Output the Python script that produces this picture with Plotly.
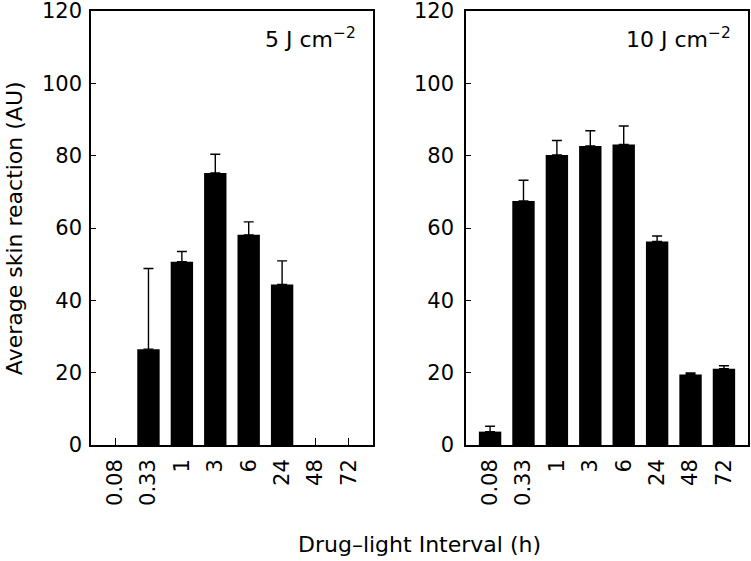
import plotly.graph_objects as go

categories = ["0.08", "0.33", "1", "3", "6", "24", "48", "72"]

# 5 J cm-2 panel (None = no bar)
values_5 = [None, 26.5, 50.7, 75.2, 58.1, 44.4, None, None]
err_5 = [None, 22.3, 2.8, 5.2, 3.6, 6.5, None, None]

# 10 J cm-2 panel
values_10 = [3.7, 67.5, 80.2, 82.7, 83.1, 56.3, 19.5, 21.1]
err_10 = [1.5, 5.7, 4.0, 4.2, 5.1, 1.5, 0.4, 0.8]

panel_labels = ["5 J cm<sup>\u22122</sup>", "10 J cm<sup>\u22122</sup>"]
y_ticks = [0, 20, 40, 60, 80, 100, 120]

FONT = "DejaVu Sans, Liberation Sans, Arial, sans-serif"
FS = 21

fig = go.Figure()

for i, (vals, errs) in enumerate([(values_5, err_5), (values_10, err_10)]):
    xa = "x" if i == 0 else "x2"
    ya = "y" if i == 0 else "y2"
    fig.add_trace(go.Bar(
        x=categories, y=vals, xaxis=xa, yaxis=ya,
        marker=dict(color="black", line=dict(width=0)),
        error_y=dict(type="data", symmetric=False, array=errs,
                     arrayminus=[0] * len(errs), color="black",
                     thickness=1.4, width=5),
        showlegend=False,
    ))

axis_common = dict(
    showline=True, mirror=True, linecolor="black", linewidth=1.5,
    ticks="inside", tickcolor="black", showgrid=False, zeroline=False,
    automargin=False, ticklabeloverflow="allow",
    tickfont=dict(family=FONT, size=FS, color="black"),
)

fig.update_layout(
    template="none",
    width=751, height=561,
    margin=dict(l=91, r=3, t=11, b=116),
    paper_bgcolor="white", plot_bgcolor="white",
    bargap=0.33,
    xaxis=dict(domain=[0, 0.4292], type="category", range=[-0.72, 7.72],
               tickangle=-90, ticklen=7, ticklabelstandoff=4, **axis_common),
    xaxis2=dict(domain=[0.5708, 1], type="category", range=[-0.72, 7.72],
                tickangle=-90, ticklen=7, ticklabelstandoff=4, anchor="y2",
                **axis_common),
    yaxis=dict(range=[0, 120], tickvals=y_ticks, ticklen=5,
               ticklabelstandoff=3, **axis_common),
    yaxis2=dict(range=[0, 120], tickvals=y_ticks, ticklen=5, anchor="x2",
                ticklabelstandoff=6, **axis_common),
)

for i, ax in enumerate(["x", "x2"]):
    ay = "y" if ax == "x" else "y2"
    fig.add_annotation(xref=f"{ax} domain", yref=f"{ay} domain",
                       x=0.947, y=0.938, xanchor="right", yanchor="middle",
                       showarrow=False, text=panel_labels[i],
                       font=dict(family=FONT, size=22, color="black"))

fig.add_annotation(xref="paper", yref="paper", x=-0.117, y=0.5,
                   xanchor="center", yanchor="middle", showarrow=False,
                   textangle=-90, text="Average skin reaction (AU)",
                   font=dict(family=FONT, size=22, color="black"))
fig.add_annotation(xref="paper", yref="paper", x=0.5, y=-0.2304,
                   xanchor="center", yanchor="middle", showarrow=False,
                   text="Drug\u2013light Interval (h)",
                   font=dict(family=FONT, size=22, color="black"))

fig.write_html("out.html",
               config={"displayModeBar": False},
               post_script="document.body.style.margin='0';")
